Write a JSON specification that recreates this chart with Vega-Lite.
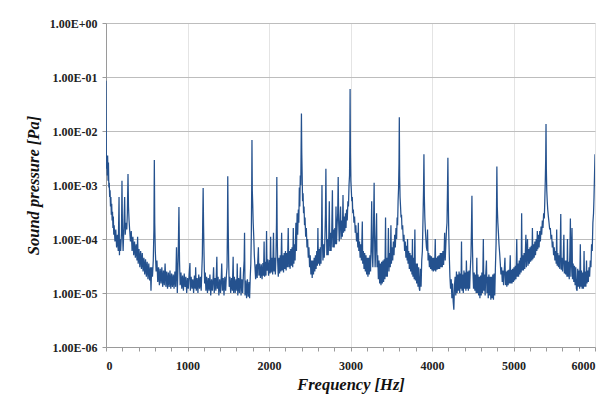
{
  "$schema": "https://vega.github.io/schema/vega-lite/v6.json",
  "width": 489,
  "height": 324,
  "autosize": {"type": "none"},
  "padding": {"left": 106, "top": 23, "right": 12, "bottom": 56},
  "background": "white",
  "config": {"view": {"stroke": null}},
  "data": {"values": [
{"hz":0,"pa":8.5e-2},{"hz":5,"pa":2.0e-3},{"hz":10,"pa":3.3e-3},{"hz":15,"pa":1.5e-3},{"hz":20,"pa":3.5e-3},{"hz":25,"pa":1.2e-3},{"hz":30,"pa":2.6e-3},{"hz":35,"pa":9e-4},{"hz":40,"pa":1.1e-3},{"hz":45,"pa":6e-4},{"hz":50,"pa":8e-4},{"hz":55,"pa":4e-4},{"hz":60,"pa":6e-4},{"hz":65,"pa":2.8e-4},{"hz":70,"pa":4.5e-4},{"hz":75,"pa":2.2e-4},{"hz":80,"pa":3.2e-4},{"hz":85,"pa":1.6e-4},{"hz":90,"pa":2.6e-4},{"hz":95,"pa":1.2e-4},{"hz":100,"pa":1.8e-4},{"hz":110,"pa":9e-5},{"hz":120,"pa":1.5e-4},{"hz":130,"pa":7e-5},{"hz":140,"pa":1.2e-4},{"hz":150,"pa":6e-5},{"hz":160,"pa":6e-4},{"hz":165,"pa":5e-5},{"hz":170,"pa":1e-4},{"hz":180,"pa":6e-5},{"hz":190,"pa":1.3e-4},{"hz":196,"pa":1.2e-3},{"hz":202,"pa":1.5e-4},{"hz":210,"pa":6e-5},{"hz":220,"pa":1.8e-4},{"hz":229,"pa":6e-4},{"hz":236,"pa":1.2e-4},{"hz":245,"pa":2e-4},{"hz":255,"pa":1.5e-4},{"hz":262,"pa":3e-4},{"hz":270,"pa":1.6e-3},{"hz":276,"pa":4e-4},{"hz":283,"pa":2.2e-4},{"hz":290,"pa":1.5e-4},{"hz":300,"pa":9e-5},{"hz":310,"pa":1.4e-4},{"hz":320,"pa":6e-5},{"hz":330,"pa":1.1e-4},{"hz":340,"pa":5e-5},{"hz":350,"pa":9e-5},{"hz":360,"pa":4.5e-5},{"hz":370,"pa":8e-5},{"hz":380,"pa":4e-5},{"hz":388,"pa":1.1e-4},{"hz":395,"pa":3.5e-5},{"hz":405,"pa":6.5e-5},{"hz":415,"pa":3e-5},{"hz":425,"pa":6e-5},{"hz":435,"pa":2.8e-5},{"hz":445,"pa":5.5e-5},{"hz":455,"pa":2.5e-5},{"hz":465,"pa":4.5e-5},{"hz":475,"pa":2.2e-5},{"hz":485,"pa":4.2e-5},{"hz":495,"pa":2e-5},{"hz":505,"pa":3.8e-5},{"hz":515,"pa":1.8e-5},{"hz":525,"pa":3.5e-5},{"hz":535,"pa":1.7e-5},{"hz":545,"pa":3e-5},{"hz":552,"pa":1.1e-5},{"hz":560,"pa":3e-5},{"hz":570,"pa":2e-5},{"hz":580,"pa":4e-5},{"hz":588,"pa":1.5e-4},{"hz":593,"pa":2.9e-3},{"hz":598,"pa":2e-4},{"hz":605,"pa":6e-5},{"hz":615,"pa":2.5e-5},{"hz":625,"pa":4e-5},{"hz":635,"pa":1.6e-5},{"hz":645,"pa":3e-5},{"hz":655,"pa":1.4e-5},{"hz":665,"pa":2.8e-5},{"hz":675,"pa":1.5e-5},{"hz":685,"pa":3e-5},{"hz":695,"pa":1.3e-5},{"hz":705,"pa":2.6e-5},{"hz":715,"pa":1.4e-5},{"hz":725,"pa":3.5e-5},{"hz":735,"pa":1.3e-5},{"hz":745,"pa":2.5e-5},{"hz":755,"pa":1.2e-5},{"hz":765,"pa":2.4e-5},{"hz":775,"pa":1.3e-5},{"hz":785,"pa":2.6e-5},{"hz":795,"pa":1.2e-5},{"hz":805,"pa":2.3e-5},{"hz":815,"pa":1.3e-5},{"hz":825,"pa":2.2e-5},{"hz":835,"pa":1.2e-5},{"hz":845,"pa":2.5e-5},{"hz":855,"pa":1.3e-5},{"hz":865,"pa":7e-5},{"hz":875,"pa":1e-5},{"hz":885,"pa":4e-5},{"hz":895,"pa":3.9e-4},{"hz":902,"pa":4e-5},
{"hz":910,"pa":1.4e-5},{"hz":920,"pa":2.4e-5},{"hz":930,"pa":1.2e-5},{"hz":940,"pa":2.1e-5},{"hz":950,"pa":1.1e-5},{"hz":960,"pa":2.3e-5},{"hz":970,"pa":1.3e-5},{"hz":980,"pa":2e-5},{"hz":990,"pa":1e-5},{"hz":1000,"pa":1.9e-5},{"hz":1010,"pa":1.2e-5},{"hz":1020,"pa":2.2e-5},{"hz":1030,"pa":3.6e-5},{"hz":1035,"pa":1.1e-5},{"hz":1045,"pa":2e-5},{"hz":1055,"pa":1.2e-5},{"hz":1065,"pa":1.8e-5},{"hz":1075,"pa":1e-5},{"hz":1085,"pa":2.1e-5},{"hz":1095,"pa":1.2e-5},{"hz":1100,"pa":3e-5},{"hz":1108,"pa":1.1e-5},{"hz":1118,"pa":1.9e-5},{"hz":1128,"pa":1e-5},{"hz":1138,"pa":2.2e-5},{"hz":1148,"pa":1.2e-5},{"hz":1158,"pa":2e-5},{"hz":1168,"pa":1.1e-5},{"hz":1176,"pa":2.6e-5},{"hz":1182,"pa":5e-5},{"hz":1187,"pa":2.3e-4},{"hz":1192,"pa":8.8e-4},{"hz":1197,"pa":1.8e-4},{"hz":1203,"pa":5e-5},{"hz":1210,"pa":1.5e-5},{"hz":1218,"pa":2.4e-5},{"hz":1226,"pa":1.1e-5},{"hz":1235,"pa":2e-5},{"hz":1245,"pa":1e-5},{"hz":1255,"pa":1.9e-5},{"hz":1265,"pa":1.1e-5},{"hz":1275,"pa":2.2e-5},{"hz":1285,"pa":9e-6},{"hz":1295,"pa":1.8e-5},{"hz":1305,"pa":1.1e-5},{"hz":1315,"pa":2e-5},{"hz":1320,"pa":3e-5},{"hz":1328,"pa":1e-5},{"hz":1338,"pa":1.9e-5},{"hz":1348,"pa":1.1e-5},{"hz":1355,"pa":2.5e-5},{"hz":1360,"pa":4.7e-5},{"hz":1366,"pa":1.2e-5},{"hz":1375,"pa":2e-5},{"hz":1385,"pa":9e-6},{"hz":1395,"pa":1.8e-5},{"hz":1405,"pa":1e-5},{"hz":1415,"pa":2.1e-5},{"hz":1420,"pa":3.5e-5},{"hz":1428,"pa":1.1e-5},{"hz":1438,"pa":1.9e-5},{"hz":1448,"pa":9e-6},{"hz":1458,"pa":2e-5},{"hz":1468,"pa":1.1e-5},{"hz":1478,"pa":2.2e-5},{"hz":1485,"pa":3e-5},{"hz":1490,"pa":1.5e-4},{"hz":1494,"pa":1.45e-3},{"hz":1499,"pa":2e-4},{"hz":1505,"pa":4e-5},{"hz":1512,"pa":1.3e-5},{"hz":1520,"pa":2e-5},{"hz":1530,"pa":1e-5},{"hz":1540,"pa":1.9e-5},{"hz":1550,"pa":1.1e-5},{"hz":1560,"pa":4.7e-5},{"hz":1566,"pa":1e-5},{"hz":1575,"pa":2e-5},{"hz":1585,"pa":1e-5},{"hz":1595,"pa":1.8e-5},{"hz":1605,"pa":1.1e-5},{"hz":1610,"pa":3.5e-5},{"hz":1617,"pa":9e-6},{"hz":1627,"pa":1.9e-5},{"hz":1637,"pa":1e-5},{"hz":1645,"pa":2e-5},{"hz":1650,"pa":3e-5},{"hz":1657,"pa":9e-6},{"hz":1667,"pa":1.8e-5},{"hz":1677,"pa":1e-5},{"hz":1687,"pa":2.4e-5},{"hz":1695,"pa":4e-5},{"hz":1700,"pa":1.3e-4},{"hz":1706,"pa":9e-6},{"hz":1715,"pa":1.7e-5},{"hz":1725,"pa":8e-6},{"hz":1735,"pa":1.8e-5},{"hz":1745,"pa":8.5e-6},{"hz":1755,"pa":1.6e-5},{"hz":1762,"pa":8e-6},{"hz":1770,"pa":2e-5},{"hz":1777,"pa":3.5e-5},{"hz":1783,"pa":1.2e-4},{"hz":1788,"pa":1e-3},{"hz":1791,"pa":6.8e-3},{"hz":1795,"pa":8e-4},{"hz":1800,"pa":4.6e-4},{"hz":1806,"pa":2e-4},{"hz":1813,"pa":1.1e-4},{"hz":1820,"pa":5e-5},{"hz":1828,"pa":3e-5},{"hz":1836,"pa":1.8e-5},{"hz":1845,"pa":3.4e-5},{"hz":1855,"pa":1.9e-5},{"hz":1862,"pa":3.8e-5},{"hz":1870,"pa":7e-5},{"hz":1876,"pa":2.1e-5},{"hz":1885,"pa":3.5e-5},{"hz":1895,"pa":1.9e-5},{"hz":1905,"pa":3.4e-5},{"hz":1915,"pa":1.8e-5},{"hz":1925,"pa":3.6e-5},{"hz":1933,"pa":2.1e-5},{"hz":1940,"pa":9e-5},{"hz":1946,"pa":2e-5},{"hz":1955,"pa":3.8e-5},{"hz":1963,"pa":2.1e-5},{"hz":1970,"pa":1.4e-4},{"hz":1976,"pa":2.6e-5},{"hz":1985,"pa":4.2e-5},{"hz":1995,"pa":2.1e-5},{"hz":2005,"pa":4.1e-5},{"hz":2013,"pa":2.3e-5},{"hz":2020,"pa":1.1e-4},{"hz":2026,"pa":2.4e-5},{"hz":2035,"pa":4.5e-5},{"hz":2045,"pa":2.2e-5},{"hz":2055,"pa":1.3e-4},{"hz":2062,"pa":2.5e-5},{"hz":2070,"pa":4.5e-5},{"hz":2078,"pa":2.2e-5},{"hz":2086,"pa":5e-5},{"hz":2092,"pa":2e-4},{"hz":2096,"pa":1.4e-3},{"hz":2100,"pa":1.5e-4},{"hz":2106,"pa":4e-5},{"hz":2114,"pa":2e-5},{"hz":2122,"pa":4.5e-5},{"hz":2130,"pa":2.3e-5},{"hz":2138,"pa":5e-5},{"hz":2146,"pa":2.5e-5},{"hz":2155,"pa":1.3e-4},{"hz":2162,"pa":2.6e-5},{"hz":2170,"pa":5e-5},{"hz":2178,"pa":2.4e-5},{"hz":2186,"pa":5.5e-5},{"hz":2194,"pa":2.8e-5},{"hz":2202,"pa":6e-5},{"hz":2210,"pa":2.6e-5},{"hz":2218,"pa":5.5e-5},{"hz":2226,"pa":3e-5},{"hz":2236,"pa":1.6e-4},{"hz":2243,"pa":3e-5},{"hz":2251,"pa":6e-5},{"hz":2259,"pa":2.8e-5},{"hz":2267,"pa":6.5e-5},{"hz":2275,"pa":3.2e-5},{"hz":2283,"pa":7e-5},{"hz":2291,"pa":3e-5},{"hz":2298,"pa":1.6e-4},{"hz":2305,"pa":3.5e-5},{"hz":2313,"pa":8e-5},{"hz":2320,"pa":4e-5},{"hz":2330,"pa":2e-4},{"hz":2337,"pa":6e-5},{"hz":2345,"pa":3e-4},{"hz":2352,"pa":1.2e-4},{"hz":2360,"pa":3.5e-4},{"hz":2366,"pa":2e-4},{"hz":2372,"pa":9e-4},{"hz":2378,"pa":4e-4},{"hz":2384,"pa":1.5e-3},{"hz":2390,"pa":1e-3},{"hz":2394,"pa":5e-3},{"hz":2398,"pa":2.1e-2},{"hz":2402,"pa":4e-3},{"hz":2407,"pa":1.5e-3},{"hz":2412,"pa":5e-4},{"hz":2418,"pa":7e-4},{"hz":2424,"pa":3e-4},{"hz":2430,"pa":4e-4},{"hz":2436,"pa":1.8e-4},{"hz":2442,"pa":2.5e-4},{"hz":2450,"pa":1.1e-4},{"hz":2458,"pa":1.6e-4},{"hz":2466,"pa":7e-5},{"hz":2474,"pa":1e-4},{"hz":2482,"pa":4.5e-5},{"hz":2490,"pa":7e-5},{"hz":2498,"pa":3e-5},{"hz":2506,"pa":5e-5},{"hz":2514,"pa":2.2e-5},{"hz":2522,"pa":4e-5},{"hz":2530,"pa":1.9e-5},{"hz":2538,"pa":4e-5},{"hz":2546,"pa":2.2e-5},{"hz":2554,"pa":4.5e-5},{"hz":2562,"pa":2.5e-5},{"hz":2570,"pa":5e-5},{"hz":2578,"pa":2.8e-5},{"hz":2586,"pa":6e-5},{"hz":2594,"pa":3.2e-5},{"hz":2600,"pa":1.6e-4},{"hz":2606,"pa":3.5e-5},{"hz":2614,"pa":6.5e-5},{"hz":2622,"pa":3.2e-5},{"hz":2630,"pa":7e-5},{"hz":2638,"pa":3.5e-5},{"hz":2645,"pa":1.5e-4},{"hz":2650,"pa":1e-3},{"hz":2655,"pa":1e-4},{"hz":2662,"pa":4e-5},{"hz":2670,"pa":8e-5},{"hz":2678,"pa":4.5e-5},{"hz":2686,"pa":1e-4},{"hz":2693,"pa":3e-4},{"hz":2698,"pa":2e-3},{"hz":2703,"pa":2.5e-4},{"hz":2710,"pa":5e-5},{"hz":2718,"pa":1e-4},{"hz":2726,"pa":5e-5},{"hz":2734,"pa":1.2e-4},{"hz":2740,"pa":5e-4},{"hz":2746,"pa":6e-5},{"hz":2754,"pa":1.3e-4},{"hz":2762,"pa":6e-5},{"hz":2770,"pa":1.4e-4},{"hz":2778,"pa":8e-4},{"hz":2784,"pa":7e-5},{"hz":2792,"pa":1.5e-4},{"hz":2800,"pa":7e-5},{"hz":2808,"pa":1.6e-4},{"hz":2816,"pa":8e-5},{"hz":2822,"pa":4e-4},{"hz":2828,"pa":8e-5},{"hz":2836,"pa":1.8e-4},{"hz":2843,"pa":3e-4},{"hz":2849,"pa":1.4e-3},{"hz":2855,"pa":2e-4},{"hz":2862,"pa":9e-5},{"hz":2870,"pa":2e-4},{"hz":2878,"pa":4e-4},{"hz":2884,"pa":1e-4},{"hz":2892,"pa":2.2e-4},{"hz":2900,"pa":1.1e-4},{"hz":2908,"pa":6.5e-4},{"hz":2914,"pa":1.3e-4},{"hz":2922,"pa":2.6e-4},{"hz":2930,"pa":1.4e-4},{"hz":2938,"pa":3e-4},{"hz":2945,"pa":1.6e-4},{"hz":2952,"pa":3.5e-4},{"hz":2960,"pa":2.2e-4},{"hz":2968,"pa":5e-4},{"hz":2975,"pa":4e-4},{"hz":2982,"pa":1e-3},{"hz":2988,"pa":1.5e-3},{"hz":2992,"pa":6e-3},{"hz":2995,"pa":6e-2},{"hz":2999,"pa":4e-3},{"hz":3004,"pa":1.2e-3},{"hz":3010,"pa":8e-4},{"hz":3016,"pa":5e-4},{"hz":3022,"pa":6e-4},{"hz":3028,"pa":3e-4},{"hz":3035,"pa":3.5e-4},{"hz":3042,"pa":2e-4},{"hz":3050,"pa":2.6e-4},{"hz":3058,"pa":1.3e-4},{"hz":3066,"pa":1.8e-4},{"hz":3074,"pa":9e-5},{"hz":3082,"pa":1.3e-4},{"hz":3090,"pa":7e-5},{"hz":3096,"pa":2e-4},{"hz":3102,"pa":6e-5},{"hz":3110,"pa":9e-5},{"hz":3118,"pa":4.5e-5},{"hz":3126,"pa":8e-5},{"hz":3134,"pa":4e-5},{"hz":3140,"pa":1e-4},{"hz":3145,"pa":2.1e-4},{"hz":3150,"pa":3.5e-5},{"hz":3158,"pa":6e-5},{"hz":3166,"pa":2.8e-5},{"hz":3174,"pa":5.5e-5},{"hz":3182,"pa":2.5e-5},{"hz":3190,"pa":5e-5},{"hz":3198,"pa":2.2e-5},{"hz":3206,"pa":4.5e-5},{"hz":3214,"pa":2e-5},{"hz":3222,"pa":4.5e-5},{"hz":3230,"pa":2.2e-5},{"hz":3238,"pa":5e-5},{"hz":3246,"pa":2.5e-5},{"hz":3254,"pa":1e-4},{"hz":3260,"pa":5e-4},{"hz":3266,"pa":6e-5},{"hz":3274,"pa":3e-5},{"hz":3282,"pa":1.5e-4},{"hz":3290,"pa":1.1e-3},{"hz":3295,"pa":1.2e-4},{"hz":3302,"pa":3e-5},{"hz":3310,"pa":7e-5},{"hz":3320,"pa":3e-4},{"hz":3326,"pa":3e-5},{"hz":3334,"pa":5e-5},{"hz":3342,"pa":1.8e-5},{"hz":3350,"pa":4e-5},{"hz":3358,"pa":1.5e-5},{"hz":3366,"pa":3.5e-5},{"hz":3374,"pa":1.4e-5},{"hz":3382,"pa":3.8e-5},{"hz":3390,"pa":1.5e-5},{"hz":3398,"pa":4e-5},{"hz":3406,"pa":1.6e-5},{"hz":3414,"pa":4.2e-5},{"hz":3422,"pa":1.8e-5},{"hz":3430,"pa":2.5e-4},{"hz":3436,"pa":2e-5},{"hz":3444,"pa":4.5e-5},{"hz":3452,"pa":2e-5},{"hz":3460,"pa":5e-5},{"hz":3465,"pa":1.6e-4},{"hz":3472,"pa":2.5e-5},{"hz":3480,"pa":5.5e-5},{"hz":3488,"pa":3e-5},{"hz":3496,"pa":1.8e-4},{"hz":3502,"pa":3.5e-5},{"hz":3510,"pa":7e-5},{"hz":3518,"pa":4e-5},{"hz":3526,"pa":9e-5},{"hz":3534,"pa":5e-5},{"hz":3542,"pa":1.2e-4},{"hz":3550,"pa":7e-5},{"hz":3558,"pa":1.6e-4},{"hz":3566,"pa":1e-4},{"hz":3572,"pa":2.5e-4},{"hz":3578,"pa":1.8e-4},{"hz":3584,"pa":5e-4},{"hz":3590,"pa":9e-4},{"hz":3595,"pa":2.5e-3},{"hz":3599,"pa":1.8e-2},{"hz":3603,"pa":1.5e-3},{"hz":3608,"pa":6e-4},{"hz":3614,"pa":4e-4},{"hz":3620,"pa":2.5e-4},{"hz":3626,"pa":2.8e-4},{"hz":3632,"pa":1.5e-4},{"hz":3640,"pa":1.8e-4},{"hz":3648,"pa":9e-5},{"hz":3656,"pa":1.2e-4},{"hz":3664,"pa":6e-5},{"hz":3672,"pa":9e-5},{"hz":3680,"pa":4.5e-5},{"hz":3688,"pa":7.5e-5},{"hz":3695,"pa":4e-5},{"hz":3700,"pa":1e-4},{"hz":3706,"pa":3.5e-5},{"hz":3714,"pa":6e-5},{"hz":3722,"pa":2.8e-5},{"hz":3730,"pa":5.5e-5},{"hz":3738,"pa":2.5e-5},{"hz":3746,"pa":5e-5},{"hz":3754,"pa":2.2e-5},{"hz":3760,"pa":1e-4},{"hz":3766,"pa":2e-5},{"hz":3774,"pa":4.5e-5},{"hz":3782,"pa":1.8e-5},{"hz":3790,"pa":1.5e-4},{"hz":3796,"pa":1.7e-5},{"hz":3804,"pa":3.5e-5},{"hz":3812,"pa":1.5e-5},{"hz":3820,"pa":3.5e-5},{"hz":3828,"pa":1.3e-5},{"hz":3836,"pa":3e-5},{"hz":3844,"pa":1.2e-5},{"hz":3850,"pa":1.1e-5},{"hz":3858,"pa":2.8e-5},{"hz":3866,"pa":1.3e-5},{"hz":3874,"pa":4e-5},{"hz":3882,"pa":6e-5},{"hz":3890,"pa":2.5e-4},{"hz":3896,"pa":8e-4},{"hz":3901,"pa":3.7e-3},{"hz":3906,"pa":6e-4},{"hz":3912,"pa":2.5e-4},{"hz":3918,"pa":1.5e-4},{"hz":3925,"pa":1e-4},{"hz":3932,"pa":7e-5},{"hz":3940,"pa":6e-5},{"hz":3945,"pa":1.5e-4},{"hz":3952,"pa":4e-5},{"hz":3960,"pa":5.5e-5},{"hz":3968,"pa":3e-5},{"hz":3976,"pa":5e-5},{"hz":3984,"pa":2.8e-5},{"hz":3992,"pa":4.8e-5},{"hz":4000,"pa":2.6e-5},{"hz":4008,"pa":4.5e-5},{"hz":4016,"pa":2.5e-5},{"hz":4024,"pa":4.5e-5},{"hz":4032,"pa":2.6e-5},{"hz":4040,"pa":1e-4},{"hz":4046,"pa":2.5e-5},{"hz":4054,"pa":4.5e-5},{"hz":4062,"pa":2.7e-5},{"hz":4070,"pa":4.8e-5},{"hz":4078,"pa":2.8e-5},{"hz":4086,"pa":5e-5},{"hz":4094,"pa":2.8e-5},{"hz":4102,"pa":5.5e-5},{"hz":4110,"pa":3e-5},{"hz":4118,"pa":5.5e-5},{"hz":4126,"pa":3e-5},{"hz":4134,"pa":6e-5},{"hz":4142,"pa":3.3e-5},{"hz":4150,"pa":6.5e-5},{"hz":4155,"pa":1.3e-4},{"hz":4162,"pa":4e-5},{"hz":4170,"pa":8e-5},{"hz":4178,"pa":1.5e-4},{"hz":4184,"pa":2e-4},{"hz":4190,"pa":8e-4},{"hz":4195,"pa":3.2e-3},{"hz":4200,"pa":5e-4},{"hz":4206,"pa":1.2e-4},{"hz":4212,"pa":5e-5},{"hz":4220,"pa":2e-5},{"hz":4228,"pa":1.2e-5},{"hz":4236,"pa":1.8e-5},{"hz":4244,"pa":8e-6},{"hz":4252,"pa":1.5e-5},{"hz":4260,"pa":7e-6},{"hz":4268,"pa":4.9e-6},{"hz":4276,"pa":1.4e-5},{"hz":4284,"pa":2e-5},{"hz":4292,"pa":9e-6},{"hz":4300,"pa":2.5e-5},{"hz":4308,"pa":1e-5},{"hz":4316,"pa":2.2e-5},{"hz":4324,"pa":1.1e-5},{"hz":4332,"pa":2.5e-5},{"hz":4340,"pa":1e-5},{"hz":4348,"pa":2.3e-5},{"hz":4356,"pa":1.2e-5},{"hz":4362,"pa":9e-5},{"hz":4368,"pa":1.1e-5},{"hz":4376,"pa":2.2e-5},{"hz":4384,"pa":1e-5},{"hz":4392,"pa":2.6e-5},{"hz":4400,"pa":1.2e-5},{"hz":4408,"pa":2.4e-5},{"hz":4416,"pa":1.1e-5},{"hz":4422,"pa":4e-5},{"hz":4430,"pa":1.2e-5},{"hz":4438,"pa":2.5e-5},{"hz":4446,"pa":1.1e-5},{"hz":4454,"pa":2.6e-5},{"hz":4462,"pa":1.2e-5},{"hz":4470,"pa":2.8e-5},{"hz":4478,"pa":5e-5},{"hz":4484,"pa":1.5e-4},{"hz":4490,"pa":6.3e-4},{"hz":4495,"pa":1e-4},{"hz":4502,"pa":2.5e-5},{"hz":4510,"pa":1.2e-5},{"hz":4518,"pa":2.4e-5},{"hz":4526,"pa":1.1e-5},{"hz":4534,"pa":2.2e-5},{"hz":4542,"pa":1e-5},{"hz":4550,"pa":4.5e-5},{"hz":4556,"pa":1e-5},{"hz":4564,"pa":2.2e-5},{"hz":4572,"pa":9e-6},{"hz":4580,"pa":2e-5},{"hz":4588,"pa":8e-6},{"hz":4596,"pa":2.1e-5},{"hz":4604,"pa":9e-6},{"hz":4612,"pa":2.4e-5},{"hz":4620,"pa":1e-5},{"hz":4630,"pa":1e-4},{"hz":4636,"pa":1.1e-5},{"hz":4644,"pa":2.2e-5},{"hz":4652,"pa":9e-6},{"hz":4660,"pa":2.3e-5},{"hz":4668,"pa":4e-5},{"hz":4674,"pa":1e-5},{"hz":4682,"pa":2e-5},{"hz":4690,"pa":8e-6},{"hz":4698,"pa":2.2e-5},{"hz":4706,"pa":9e-6},{"hz":4714,"pa":2e-5},{"hz":4722,"pa":7.5e-6},{"hz":4730,"pa":2e-5},{"hz":4738,"pa":8e-6},{"hz":4746,"pa":2.2e-5},{"hz":4754,"pa":7.5e-6},{"hz":4762,"pa":2.3e-5},{"hz":4770,"pa":9e-6},{"hz":4778,"pa":3e-5},{"hz":4786,"pa":8e-5},{"hz":4791,"pa":3e-4},{"hz":4796,"pa":2.2e-3},{"hz":4801,"pa":4e-4},{"hz":4808,"pa":2e-4},{"hz":4815,"pa":1.3e-4},{"hz":4822,"pa":8e-5},{"hz":4830,"pa":5.5e-5},{"hz":4838,"pa":3.5e-5},{"hz":4846,"pa":2.2e-5},{"hz":4854,"pa":3e-5},{"hz":4862,"pa":1.6e-5},{"hz":4870,"pa":2.6e-5},{"hz":4878,"pa":1.4e-5},{"hz":4886,"pa":2.5e-5},{"hz":4895,"pa":4.5e-5},{"hz":4902,"pa":1.4e-5},{"hz":4910,"pa":2.5e-5},{"hz":4918,"pa":1.3e-5},{"hz":4926,"pa":2.6e-5},{"hz":4934,"pa":1.4e-5},{"hz":4942,"pa":2.7e-5},{"hz":4950,"pa":1.5e-5},{"hz":4960,"pa":5e-5},{"hz":4966,"pa":1.5e-5},{"hz":4974,"pa":2.7e-5},{"hz":4982,"pa":1.5e-5},{"hz":4990,"pa":2.8e-5},{"hz":4998,"pa":1.6e-5},{"hz":5006,"pa":3e-5},{"hz":5014,"pa":1.7e-5},{"hz":5022,"pa":3.2e-5},{"hz":5030,"pa":1.8e-5},{"hz":5040,"pa":1e-4},{"hz":5046,"pa":2e-5},{"hz":5054,"pa":3.5e-5},{"hz":5062,"pa":2e-5},{"hz":5070,"pa":4e-5},{"hz":5078,"pa":2.2e-5},{"hz":5086,"pa":4.5e-5},{"hz":5094,"pa":2.4e-5},{"hz":5100,"pa":3e-4},{"hz":5106,"pa":2.6e-5},{"hz":5114,"pa":5e-5},{"hz":5122,"pa":2.6e-5},{"hz":5130,"pa":5.5e-5},{"hz":5138,"pa":2.8e-5},{"hz":5146,"pa":6e-5},{"hz":5152,"pa":1.2e-4},{"hz":5158,"pa":3e-5},{"hz":5166,"pa":6e-5},{"hz":5172,"pa":1e-4},{"hz":5178,"pa":3.2e-5},{"hz":5186,"pa":6.5e-5},{"hz":5194,"pa":3.5e-5},{"hz":5202,"pa":7e-5},{"hz":5210,"pa":3.8e-5},{"hz":5218,"pa":7.5e-5},{"hz":5226,"pa":4e-5},{"hz":5232,"pa":1.6e-4},{"hz":5238,"pa":4.2e-5},{"hz":5246,"pa":8e-5},{"hz":5254,"pa":4.5e-5},{"hz":5262,"pa":9e-5},{"hz":5270,"pa":5e-5},{"hz":5278,"pa":1e-4},{"hz":5286,"pa":6e-5},{"hz":5292,"pa":1.4e-4},{"hz":5298,"pa":6.5e-5},{"hz":5306,"pa":1.2e-4},{"hz":5314,"pa":7e-5},{"hz":5322,"pa":1.4e-4},{"hz":5330,"pa":9e-5},{"hz":5338,"pa":1.7e-4},{"hz":5346,"pa":1.2e-4},{"hz":5354,"pa":2.2e-4},{"hz":5362,"pa":1.6e-4},{"hz":5370,"pa":3e-4},{"hz":5378,"pa":2.4e-4},{"hz":5384,"pa":5e-4},{"hz":5390,"pa":1.2e-3},{"hz":5395,"pa":3e-3},{"hz":5399,"pa":1.35e-2},{"hz":5403,"pa":2e-3},{"hz":5408,"pa":8e-4},{"hz":5414,"pa":5e-4},{"hz":5420,"pa":3.5e-4},{"hz":5428,"pa":2.6e-4},{"hz":5436,"pa":2e-4},{"hz":5444,"pa":1.5e-4},{"hz":5452,"pa":1.6e-4},{"hz":5460,"pa":1e-4},{"hz":5468,"pa":1.2e-4},{"hz":5476,"pa":7e-5},{"hz":5484,"pa":9e-5},{"hz":5492,"pa":5e-5},{"hz":5500,"pa":7e-5},{"hz":5508,"pa":4e-5},{"hz":5516,"pa":6e-5},{"hz":5524,"pa":3.5e-5},{"hz":5530,"pa":1.5e-4},{"hz":5536,"pa":3.2e-5},{"hz":5544,"pa":5.5e-5},{"hz":5552,"pa":3e-5},{"hz":5560,"pa":5e-5},{"hz":5568,"pa":2.8e-5},{"hz":5574,"pa":8e-5},{"hz":5580,"pa":2.9e-4},{"hz":5586,"pa":2.7e-5},{"hz":5594,"pa":4.5e-5},{"hz":5602,"pa":2.5e-5},{"hz":5610,"pa":4.2e-5},{"hz":5618,"pa":1.2e-4},{"hz":5624,"pa":2.3e-5},{"hz":5632,"pa":4e-5},{"hz":5640,"pa":2.2e-5},{"hz":5648,"pa":4e-5},{"hz":5656,"pa":2e-5},{"hz":5662,"pa":1e-4},{"hz":5668,"pa":2e-5},{"hz":5676,"pa":3.8e-5},{"hz":5684,"pa":1.8e-5},{"hz":5692,"pa":6e-5},{"hz":5698,"pa":2.4e-4},{"hz":5704,"pa":2e-5},{"hz":5712,"pa":6e-5},{"hz":5718,"pa":1.6e-4},{"hz":5724,"pa":1.8e-5},{"hz":5732,"pa":3.5e-5},{"hz":5740,"pa":1.6e-5},{"hz":5748,"pa":3.2e-5},{"hz":5756,"pa":1.4e-5},{"hz":5764,"pa":3e-5},{"hz":5772,"pa":1.2e-5},{"hz":5780,"pa":1.1e-5},{"hz":5788,"pa":2.8e-5},{"hz":5796,"pa":1.3e-5},{"hz":5804,"pa":2.6e-5},{"hz":5812,"pa":1.2e-5},{"hz":5820,"pa":8e-5},{"hz":5826,"pa":1.3e-5},{"hz":5834,"pa":2.6e-5},{"hz":5842,"pa":1.2e-5},{"hz":5850,"pa":2.4e-5},{"hz":5858,"pa":1.2e-5},{"hz":5866,"pa":6e-5},{"hz":5872,"pa":1.3e-5},{"hz":5880,"pa":2.5e-5},{"hz":5888,"pa":1.3e-5},{"hz":5896,"pa":4e-5},{"hz":5902,"pa":1.5e-5},{"hz":5910,"pa":2.6e-5},{"hz":5918,"pa":1.6e-5},{"hz":5926,"pa":3e-5},{"hz":5934,"pa":2e-5},{"hz":5942,"pa":4e-5},{"hz":5950,"pa":3e-5},{"hz":5958,"pa":8e-5},{"hz":5966,"pa":6e-5},{"hz":5974,"pa":2e-4},{"hz":5982,"pa":3e-4},{"hz":5988,"pa":6e-4},{"hz":5994,"pa":1.5e-3},{"hz":6000,"pa":3.7e-3}
  ]},
  "mark": {"type": "line", "color": "#24518e", "strokeWidth": 1.25, "clip": true},
  "encoding": {
    "x": {
      "field": "hz", "type": "quantitative",
      "scale": {"domain": [0, 6000], "nice": false, "zero": false},
      "axis": {
        "title": "Frequency [Hz]",
        "values": [0,200,400,600,800,1000,1200,1400,1600,1800,2000,2200,2400,2600,2800,3000,3200,3400,3600,3800,4000,4200,4400,4600,4800,5000,5200,5400,5600,5800,6000],
        "labelExpr": "datum.value % 1000 === 0 ? format(datum.value, 'd') : ''",
        "grid": true,
        "gridColor": "#e4e4e4",
        "gridOpacity": {"condition": {"test": "datum.value % 1000 === 0", "value": 1}, "value": 0},
        "domainColor": "#9a9a9a",
        "tickColor": "#9a9a9a",
        "tickSize": 4,
        "labelPadding": 9,
        "labelFont": "Liberation Serif",
        "labelFontWeight": "bold",
        "labelFontSize": 12,
        "labelColor": "#222222",
        "titleFont": "Liberation Serif",
        "titleFontWeight": "bold",
        "titleFontStyle": "italic",
        "titleFontSize": 16.5,
        "titleColor": "#111111",
        "titlePadding": 5
      }
    },
    "y": {
      "field": "pa", "type": "quantitative",
      "scale": {"type": "log", "domain": [1e-6, 1], "nice": false},
      "axis": {
        "title": "Sound pressure [Pa]",
        "values": [1e-6, 1e-5, 1e-4, 1e-3, 1e-2, 1e-1, 1],
        "labelExpr": "datum.value >= 1 ? '1.00E+00' : '1.00E-0' + round(-log(datum.value) / LN10)",
        "grid": true,
        "gridColor": "#bdbdbd",
        "domainColor": "#9a9a9a",
        "tickColor": "#9a9a9a",
        "tickSize": 4,
        "labelPadding": 5,
        "labelFont": "Liberation Serif",
        "labelFontWeight": "bold",
        "labelFontSize": 12,
        "labelColor": "#222222",
        "titleFont": "Liberation Serif",
        "titleFontWeight": "bold",
        "titleFontStyle": "italic",
        "titleFontSize": 16.5,
        "titleColor": "#111111",
        "titlePadding": 8
      }
    }
  }
}
